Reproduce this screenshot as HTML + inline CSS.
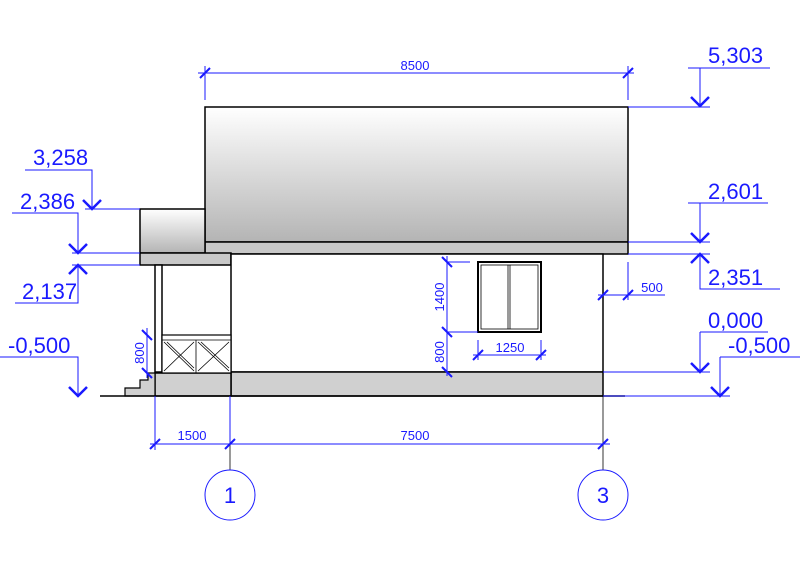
<!DOCTYPE html>
<html><head><meta charset="utf-8"><style>
html,body{margin:0;padding:0;background:#fff;width:800px;height:565px;overflow:hidden}
svg{display:block}
text{font-family:"Liberation Sans",Arial,sans-serif;fill:#1a1aff}
</style></head><body>
<svg width="800" height="565" viewBox="0 0 800 565" xmlns="http://www.w3.org/2000/svg">
<defs>
<linearGradient id="g" x1="0" y1="0" x2="0" y2="1">
<stop offset="0" stop-color="#ffffff"/><stop offset="1" stop-color="#b4b4b4"/></linearGradient>
</defs>
<!-- building -->
<g stroke="#000" stroke-width="1.5">
<rect x="205" y="107" width="423" height="135" fill="url(#g)"/>
<rect x="205" y="242" width="423" height="12" fill="#c8c8c8"/>
<rect x="140" y="209" width="65" height="44" fill="url(#g)"/>
<rect x="140" y="253" width="91" height="12" fill="#c8c8c8"/>
<rect x="231" y="254" width="372" height="118" fill="#fff"/>
<rect x="231" y="372" width="372" height="24" fill="#d0d0d0"/>
<rect x="155" y="265" width="7" height="107" fill="#fff"/>
<rect x="231" y="265" width="0" height="107" fill="none"/>
<rect x="155" y="373" width="76" height="23" fill="#d0d0d0"/>
<path d="M125 396 V388 H140 V380 H148 V373 H155 V396 Z" fill="#d0d0d0" stroke-width="1.2"/>
<rect x="162" y="335" width="69" height="38" fill="#fff" stroke-width="1.2"/>
<line x1="100" y1="396" x2="625" y2="396"/>
<rect x="478" y="262" width="63" height="70" fill="#fff" stroke-width="2"/>
</g>
<g stroke="#000" stroke-width="0.8" fill="none">
<line x1="162" y1="340" x2="231" y2="340"/>
<line x1="196" y1="340" x2="196" y2="373"/>
<path d="M164 342 L194 371 M194 342 L164 371 M167 342 L194 368 M198 342 L229 371 M229 342 L198 371 M201 342 L229 368"/>
<rect x="481" y="265" width="57" height="64"/>
<line x1="508" y1="265" x2="508" y2="329"/><line x1="510" y1="265" x2="510" y2="329"/>
<line x1="603" y1="396" x2="603" y2="470"/>
<line x1="230" y1="396" x2="230" y2="470"/>
</g>
<!-- dimensions -->
<g stroke="#1a1aff" stroke-width="1" fill="none">
<line x1="198" y1="73" x2="634" y2="73"/>
<line x1="205" y1="66" x2="205" y2="100"/><line x1="628" y1="66" x2="628" y2="100"/>
<line x1="200" y1="78" x2="210" y2="68" stroke-width="2"/><line x1="623" y1="78" x2="633" y2="68" stroke-width="2"/>
<line x1="150" y1="444" x2="610" y2="444"/>
<line x1="155" y1="396" x2="155" y2="450"/><line x1="230" y1="396" x2="230" y2="444"/>
<line x1="150" y1="449" x2="160" y2="439" stroke-width="2"/><line x1="225" y1="449" x2="235" y2="439" stroke-width="2"/><line x1="598" y1="449" x2="608" y2="439" stroke-width="2"/>
<circle cx="230" cy="495" r="25"/><circle cx="603" cy="495" r="25"/>
<!-- 1400/800 -->
<line x1="447" y1="256" x2="447" y2="376"/>
<line x1="447" y1="262" x2="470" y2="262"/><line x1="447" y1="332" x2="478" y2="332"/>
<line x1="442" y1="257" x2="452" y2="267" stroke-width="2"/><line x1="442" y1="327" x2="452" y2="337" stroke-width="2"/><line x1="442" y1="367" x2="452" y2="377" stroke-width="2"/>
<!-- 1250 -->
<line x1="473" y1="355" x2="546" y2="355"/>
<line x1="478" y1="340" x2="478" y2="360"/><line x1="541" y1="340" x2="541" y2="360"/>
<line x1="473" y1="360" x2="483" y2="350" stroke-width="2"/><line x1="536" y1="360" x2="546" y2="350" stroke-width="2"/>
<!-- 500 -->
<line x1="598" y1="295" x2="665" y2="295"/><line x1="628" y1="262" x2="628" y2="300"/>
<line x1="598" y1="300" x2="608" y2="290" stroke-width="2"/><line x1="623" y1="300" x2="633" y2="290" stroke-width="2"/>
<!-- porch 800 -->
<line x1="147" y1="328" x2="147" y2="378"/>
<line x1="142" y1="330" x2="152" y2="340" stroke-width="2"/><line x1="142" y1="368" x2="152" y2="378" stroke-width="2"/>
<!-- right levels -->
<path d="M628 107 H710 M688 68 H770 M700 68 V106"/>
<path d="M628 242 H710 M688 203 H768 M700 203 V241"/>
<path d="M628 254 H710 M700 255 V289 H780"/>
<path d="M603 372 H710 M700 332 H768 M700 332 V371"/>
<path d="M603 396 H730 M720 357 H800 M720 357 V395"/>
<g stroke-width="2.5">
<path d="M691 97 L700 106 L709 97"/><path d="M691 233 L700 242 L709 233"/>
<path d="M691 263 L700 254 L709 263"/><path d="M691 363 L700 372 L709 363"/>
<path d="M711 387 L720 396 L729 387"/>
<path d="M83 200 L92 209 L101 200"/><path d="M69 244 L78 253 L87 244"/>
<path d="M69 274 L78 265 L87 274"/><path d="M69 387 L78 396 L87 387"/>
</g>
<!-- left levels -->
<path d="M25 170 H92 V208 M85 209 H140"/>
<path d="M12 213 H78 V252 M72 253 H140"/>
<path d="M72 265 H140 M78 266 V303 H15"/>
<path d="M0 357 H78 V395"/>
</g>
<g font-size="13" text-anchor="middle">
<text x="415" y="70">8500</text>
<text x="192" y="440">1500</text>
<text x="415" y="440">7500</text>
<text x="510" y="352">1250</text>
<text x="652" y="292">500</text>
<text transform="translate(444,297) rotate(-90)">1400</text>
<text transform="translate(444,352) rotate(-90)">800</text>
<text transform="translate(144,353) rotate(-90)">800</text>
</g>
<g font-size="22">
<text x="708" y="63">5,303</text>
<text x="708" y="199">2,601</text>
<text x="708" y="285">2,351</text>
<text x="708" y="328">0,000</text>
<text x="728" y="353">-0,500</text>
<text x="33" y="165">3,258</text>
<text x="20" y="209">2,386</text>
<text x="22" y="299">2,137</text>
<text x="8" y="353">-0,500</text>
</g>
<g font-size="22" text-anchor="middle">
<text x="230" y="503">1</text><text x="603" y="503">3</text>
</g>
</svg>
</body></html>
